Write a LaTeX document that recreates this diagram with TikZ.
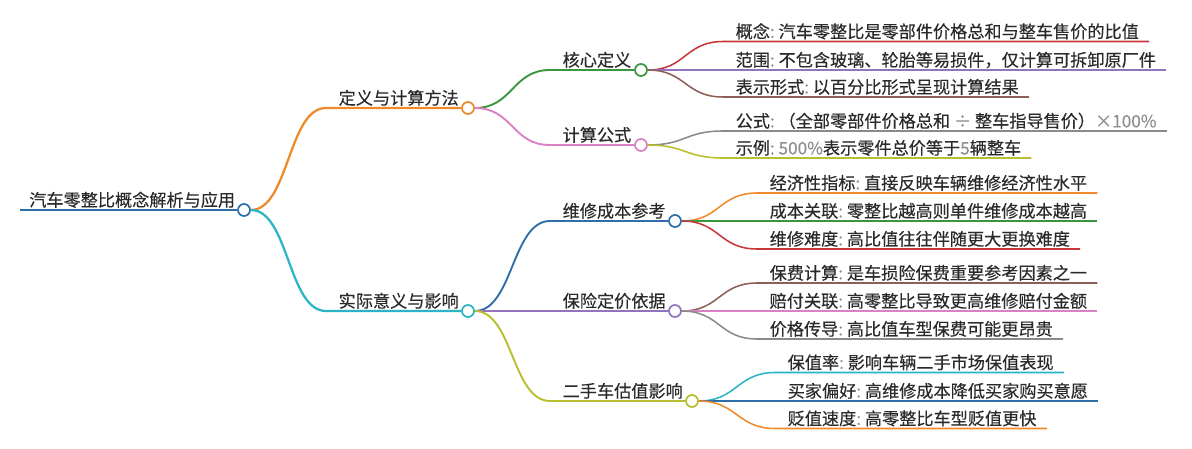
\documentclass[tikz,border=0pt]{standalone}
\usepackage{fontspec}
\usepackage{tikz}
\newfontfamily\cjkfont[FakeBold=0.25]{Noto Sans CJK SC}
\definecolor{rootblue}{HTML}{2F6EA8}
\definecolor{corange}{HTML}{F0892A}
\definecolor{ccyan}{HTML}{2BB3C6}
\definecolor{cgreen}{HTML}{3A963E}
\definecolor{cpink}{HTML}{DA80C4}
\definecolor{cpurple}{HTML}{9273BE}
\definecolor{colive}{HTML}{B9BE2E}
\definecolor{cred}{HTML}{C8373A}
\definecolor{cbrown}{HTML}{8C5F58}
\definecolor{cgray}{HTML}{8A8A8A}
\definecolor{textdark}{HTML}{2A2A2A}
\definecolor{sepgray}{HTML}{8E8E8E}
\newcommand{\lsep}{\textcolor{sepgray}{:}\ }
\newcommand{\lgray}[1]{\textcolor{sepgray}{#1}}

\begin{document}
\begin{tikzpicture}[x=0.025cm,y=-0.025cm,
    hub/.style={circle,draw=#1,fill=white,line width=1.2pt,minimum size=0.3cm,inner sep=0pt},
    txt/.style={anchor=base west,inner sep=0pt,xshift=0.31cm,yshift=0.09cm,text=textdark,
                font=\cjkfont\fontsize{12.2}{15}\selectfont},
    trunk/.style={draw=#1,line width=2.1pt},
    bough/.style={draw=#1,line width=1.6pt},
    twig/.style={draw=#1,line width=1.35pt},
    leaf/.style={draw=#1,line width=1.1pt}]

        \useasboundingbox (0,0) rectangle (1192,448);

        % root
        \coordinate (S0) at (20,210);
        \node[txt,xshift=-0.085cm] (T0) at (S0)   {汽车零整比概念解析与应用};
        \node[hub=rootblue]        (C0) at (244,210) {};

        % first level
        \coordinate (S1) at (326,108);
        \coordinate (S2) at (326,311);
        \node[txt]          (T1) at (S1)      {定义与计算方法};
        \node[hub=corange]  (C1) at (468,108) {};
        \node[txt]          (T2) at (S2)      {实际意义与影响};
        \node[hub=ccyan]    (C2) at (468,311) {};

        % second level
        \coordinate (S11) at (550,70);
        \coordinate (S12) at (550,145);
        \coordinate (S21) at (550,221);
        \coordinate (S22) at (550,311);
        \coordinate (S23) at (550,401);
        \node[txt]          (T11) at (S11)      {核心定义};
        \node[hub=cgreen]   (C11) at (641,70)   {};
        \node[txt]          (T12) at (S12)      {计算公式};
        \node[hub=cpink]    (C12) at (641,145)  {};
        \node[txt]          (T21) at (S21)      {维修成本参考};
        \node[hub=rootblue] (C21) at (675,221)  {};
        \node[txt]          (T22) at (S22)      {保险定价依据};
        \node[hub=cpurple]  (C22) at (675,311)  {};
        \node[txt]          (T23) at (S23)      {二手车估值影响};
        \node[hub=colive]   (C23) at (692,401)  {};

        % leaves
        \coordinate (S111) at (723,41.5);
        \coordinate (S112) at (723,70);
        \coordinate (S113) at (723,97);
        \coordinate (S121) at (723,131);
        \coordinate (S122) at (723,158);
        \coordinate (S211) at (757,193);
        \coordinate (S212) at (757,221);
        \coordinate (S213) at (757,249);
        \coordinate (S221) at (757,283);
        \coordinate (S222) at (757,311);
        \coordinate (S223) at (757,339);
        \coordinate (S231) at (775,372.5);
        \coordinate (S232) at (775,401);
        \coordinate (S233) at (775,428.5);

        \node[txt] (T111) at (S111) {概念\lsep 汽车零整比是零部件价格总和与整车售价的比值};
        \node[txt] (T112) at (S112) {范围\lsep 不包含玻璃、轮胎等易损件，仅计算可拆卸原厂件};
        \node[txt] (T113) at (S113) {表示形式\lsep 以百分比形式呈现计算结果};
        \node[txt] (T121) at (S121) {公式\lsep （全部零部件价格总和 \lgray{÷} 整车指导售价）\lgray{×100\%}};
        \node[txt] (T122) at (S122) {示例\lsep \lgray{500\%}表示零件总价等于\lgray{5}辆整车};
        \node[txt] (T211) at (S211) {经济性指标\lsep 直接反映车辆维修经济性水平};
        \node[txt] (T212) at (S212) {成本关联\lsep 零整比越高则单件维修成本越高};
        \node[txt] (T213) at (S213) {维修难度\lsep 高比值往往伴随更大更换难度};
        \node[txt] (T221) at (S221) {保费计算\lsep 是车损险保费重要参考因素之一};
        \node[txt] (T222) at (S222) {赔付关联\lsep 高零整比导致更高维修赔付金额};
        \node[txt] (T223) at (S223) {价格传导\lsep 高比值车型保费可能更昂贵};
        \node[txt] (T231) at (S231) {保值率\lsep 影响车辆二手市场保值表现};
        \node[txt] (T232) at (S232) {买家偏好\lsep 高维修成本降低买家购买意愿};
        \node[txt] (T233) at (S233) {贬值速度\lsep 高零整比车型贬值更快};

        % connectors
        \draw[trunk=rootblue] (S0) -- (C0.west);

        \draw[bough=corange] (C0.east) .. controls +(38,0) and +(-38,0) .. (S1) -- (C1.west);
        \draw[bough=ccyan]   (C0.east) .. controls +(38,0) and +(-38,0) .. (S2) -- (C2.west);

        \draw[twig=cgreen]   (C1.east) .. controls +(38,0) and +(-38,0) .. (S11) -- (C11.west);
        \draw[twig=cpink]    (C1.east) .. controls +(38,0) and +(-38,0) .. (S12) -- (C12.west);
        \draw[twig=rootblue] (C2.east) .. controls +(38,0) and +(-38,0) .. (S21) -- (C21.west);
        \draw[twig=cpurple]  (C2.east) .. controls +(38,0) and +(-38,0) .. (S22) -- (C22.west);
        \draw[twig=colive]   (C2.east) .. controls +(38,0) and +(-38,0) .. (S23) -- (C23.west);

        \draw[leaf=cred]     (C11.east) .. controls +(38,0) and +(-38,0) .. (S111) -- (S111 -| T111.east) -- ++(10,0);
        \draw[leaf=cpurple]  (C11.east) .. controls +(38,0) and +(-38,0) .. (S112) -- (S112 -| T112.east) -- ++(10,0);
        \draw[leaf=cbrown]   (C11.east) .. controls +(38,0) and +(-38,0) .. (S113) -- (S113 -| T113.east) -- ++(10,0);
        \draw[leaf=cgray]    (C12.east) .. controls +(38,0) and +(-38,0) .. (S121) -- (S121 -| T121.east) -- ++(10,0);
        \draw[leaf=colive]   (C12.east) .. controls +(38,0) and +(-38,0) .. (S122) -- (S122 -| T122.east) -- ++(10,0);
        \draw[leaf=corange]  (C21.east) .. controls +(38,0) and +(-38,0) .. (S211) -- (S211 -| T211.east) -- ++(10,0);
        \draw[leaf=cgreen]   (C21.east) .. controls +(38,0) and +(-38,0) .. (S212) -- (S212 -| T212.east) -- ++(10,0);
        \draw[leaf=cred]     (C21.east) .. controls +(38,0) and +(-38,0) .. (S213) -- (S213 -| T213.east) -- ++(10,0);
        \draw[leaf=cbrown]   (C22.east) .. controls +(38,0) and +(-38,0) .. (S221) -- (S221 -| T221.east) -- ++(10,0);
        \draw[leaf=cpink]    (C22.east) .. controls +(38,0) and +(-38,0) .. (S222) -- (S222 -| T222.east) -- ++(10,0);
        \draw[leaf=cgray]    (C22.east) .. controls +(38,0) and +(-38,0) .. (S223) -- (S223 -| T223.east) -- ++(10,0);
        \draw[leaf=ccyan]    (C23.east) .. controls +(38,0) and +(-38,0) .. (S231) -- (S231 -| T231.east) -- ++(10,0);
        \draw[leaf=rootblue] (C23.east) .. controls +(38,0) and +(-38,0) .. (S232) -- (S232 -| T232.east) -- ++(10,0);
        \draw[leaf=corange]  (C23.east) .. controls +(38,0) and +(-38,0) .. (S233) -- (S233 -| T233.east) -- ++(10,0);
      \end{tikzpicture}
\end{document}
